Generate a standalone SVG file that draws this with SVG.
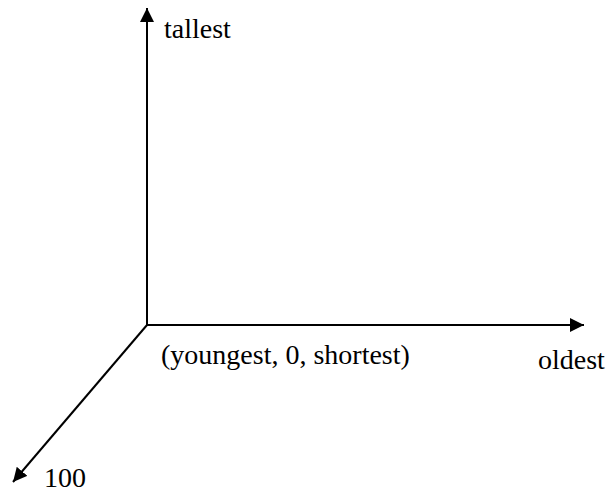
<svg xmlns="http://www.w3.org/2000/svg" width="609" height="494" viewBox="0 0 609 494">
<style>
.ax{stroke:#000;stroke-width:2;fill:none}
.t{font-family:'Liberation Serif','Times New Roman',serif;font-size:28px;fill:#000}
</style>
<defs>
<marker id="a" viewBox="0 0 14 14" refX="14" refY="7" markerWidth="14" markerHeight="14" orient="auto" markerUnits="userSpaceOnUse"><path d="M0,0 L14,7 L0,14 Z" fill="#000"/></marker>
</defs>
<g id="connectors">
<line class="ax" x1="147" y1="325" x2="147" y2="8" marker-end="url(#a)"/>
<line class="ax" x1="147" y1="325" x2="584" y2="325" marker-end="url(#a)"/>
<line class="ax" x1="147" y1="325" x2="13" y2="482" marker-end="url(#a)"/>
</g>
<g id="tallest"><text class="t" x="164" y="38">tallest</text></g>
<g id="origin"><text class="t" x="161" y="364">(youngest, 0, shortest)</text></g>
<g id="oldest"><text class="t" x="538" y="369">oldest</text></g>
<g id="n100"><text class="t" x="44" y="487">100</text></g>
</svg>
